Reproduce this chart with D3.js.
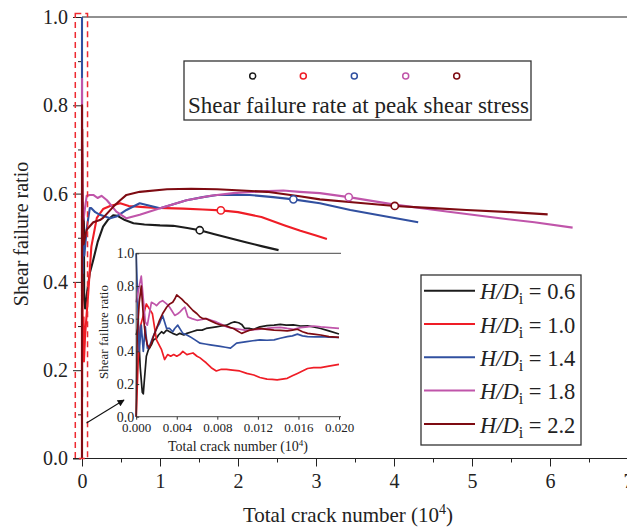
<!DOCTYPE html>
<html>
<head>
<meta charset="utf-8">
<script src="https://cdn.jsdelivr.net/npm/d3@7"></script>
<style>
  body { margin: 0; background: #fff; }
  svg { display: block; }
  text { font-family: "Liberation Serif", "Times New Roman", serif; fill: #222; }
</style>
</head>
<body>
<svg id="chart" width="627" height="529"></svg>
<script>
// ---- data: crack number in units of 10^4, shear failure ratio ----
const seriesLabels = ["0.6", "1.0", "1.4", "1.8", "2.2"];
const seriesColors = ["#1c1c1c", "#ef1d26", "#3150a0", "#c055aa", "#7e0b12"];

// first 0.02 x 10^4 cracks (shown enlarged in the inset)
const early06 = [[0,0.50],[0.0002,0.55],[0.0004,0.30],[0.0006,0.15],[0.0007,0.14],[0.0008,0.22],[0.0010,0.37],[0.0012,0.41],[0.0015,0.44],[0.0017,0.47],[0.0020,0.48],[0.0022,0.50],[0.0025,0.52],[0.0027,0.51],[0.0030,0.53],[0.0033,0.52],[0.0036,0.51],[0.0040,0.50],[0.0043,0.51],[0.0047,0.50],[0.0050,0.51],[0.0055,0.52],[0.0060,0.53],[0.0065,0.53],[0.0069,0.54],[0.0074,0.545],[0.0079,0.55],[0.0084,0.555],[0.0089,0.56],[0.0094,0.575],[0.0097,0.58],[0.0101,0.575],[0.0104,0.565],[0.0107,0.54],[0.0112,0.54],[0.0116,0.535],[0.0122,0.55],[0.0129,0.557],[0.0136,0.56],[0.0142,0.565],[0.0148,0.56],[0.0155,0.562],[0.0162,0.555],[0.0169,0.556],[0.0175,0.55],[0.0182,0.54],[0.0190,0.525],[0.0200,0.506]];
const early10 = [[0,0.0],[0.0002,0.35],[0.0004,0.55],[0.0007,0.62],[0.0010,0.69],[0.0013,0.66],[0.0016,0.63],[0.0018,0.55],[0.0020,0.47],[0.0025,0.41],[0.0028,0.35],[0.0031,0.38],[0.0034,0.37],[0.0037,0.38],[0.0040,0.37],[0.0043,0.38],[0.0046,0.40],[0.0050,0.38],[0.0053,0.385],[0.0056,0.39],[0.0060,0.37],[0.0063,0.36],[0.0066,0.345],[0.0069,0.33],[0.0074,0.30],[0.0079,0.28],[0.0084,0.29],[0.0089,0.29],[0.0095,0.285],[0.0102,0.28],[0.0109,0.265],[0.0116,0.255],[0.0122,0.24],[0.0129,0.23],[0.0134,0.228],[0.0139,0.225],[0.0144,0.23],[0.0149,0.235],[0.0154,0.25],[0.0159,0.265],[0.0164,0.28],[0.0169,0.295],[0.0175,0.3],[0.0182,0.3],[0.0190,0.31],[0.0200,0.32]];
const early14 = [[0,1.0],[0.0003,0.40],[0.0005,0.56],[0.0007,0.40],[0.0009,0.55],[0.0011,0.42],[0.0013,0.43],[0.0016,0.48],[0.0018,0.51],[0.0021,0.55],[0.0023,0.57],[0.0026,0.62],[0.0028,0.58],[0.0030,0.54],[0.0033,0.54],[0.0036,0.52],[0.0038,0.54],[0.0041,0.56],[0.0044,0.53],[0.0046,0.51],[0.0050,0.50],[0.0053,0.49],[0.0058,0.47],[0.0063,0.45],[0.0068,0.445],[0.0073,0.44],[0.0078,0.435],[0.0083,0.43],[0.0088,0.425],[0.0093,0.42],[0.0096,0.435],[0.0099,0.45],[0.0104,0.455],[0.0109,0.46],[0.0115,0.465],[0.0122,0.47],[0.0129,0.468],[0.0136,0.47],[0.0142,0.48],[0.0149,0.49],[0.0154,0.495],[0.0159,0.505],[0.0164,0.495],[0.0169,0.49],[0.0176,0.488],[0.0182,0.49],[0.0190,0.487],[0.0200,0.485]];
const early18 = [[0,0.70],[0.0003,0.80],[0.0005,0.86],[0.0007,0.72],[0.0009,0.58],[0.0011,0.56],[0.0013,0.63],[0.0015,0.70],[0.0018,0.69],[0.0020,0.68],[0.0023,0.70],[0.0026,0.71],[0.0030,0.69],[0.0033,0.67],[0.0035,0.65],[0.0038,0.62],[0.0041,0.63],[0.0043,0.64],[0.0046,0.66],[0.0048,0.67],[0.0051,0.61],[0.0055,0.60],[0.0060,0.59],[0.0065,0.595],[0.0069,0.60],[0.0074,0.59],[0.0079,0.58],[0.0084,0.565],[0.0089,0.55],[0.0096,0.54],[0.0102,0.535],[0.0107,0.53],[0.0112,0.53],[0.0120,0.535],[0.0129,0.54],[0.0136,0.545],[0.0142,0.547],[0.0149,0.54],[0.0155,0.535],[0.0162,0.545],[0.0169,0.55],[0.0175,0.555],[0.0182,0.55],[0.0188,0.547],[0.0200,0.54]];
const early22 = [[0,0.0],[0.0001,0.50],[0.0003,0.70],[0.0005,0.80],[0.0007,0.62],[0.0009,0.50],[0.0011,0.44],[0.0013,0.42],[0.0015,0.45],[0.0017,0.49],[0.0020,0.54],[0.0023,0.59],[0.0026,0.63],[0.0030,0.67],[0.0033,0.69],[0.0036,0.70],[0.0038,0.72],[0.0040,0.745],[0.0042,0.735],[0.0045,0.72],[0.0048,0.70],[0.0050,0.69],[0.0053,0.67],[0.0056,0.65],[0.0060,0.63],[0.0063,0.61],[0.0066,0.60],[0.0069,0.60],[0.0074,0.585],[0.0079,0.57],[0.0084,0.56],[0.0089,0.555],[0.0093,0.545],[0.0096,0.54],[0.0100,0.525],[0.0104,0.51],[0.0108,0.52],[0.0112,0.53],[0.0117,0.535],[0.0122,0.54],[0.0129,0.535],[0.0136,0.53],[0.0142,0.528],[0.0149,0.525],[0.0154,0.53],[0.0159,0.535],[0.0164,0.52],[0.0169,0.51],[0.0175,0.505],[0.0182,0.50],[0.0190,0.49],[0.0200,0.485]];

// remainder of each test
const late06 = [[0.024,0.56],[0.028,0.36],[0.04,0.34],[0.06,0.37],[0.10,0.42],[0.145,0.45],[0.20,0.49],[0.27,0.525],[0.33,0.54],[0.40,0.551],[0.45,0.55],[0.55,0.54],[0.66,0.533],[0.80,0.530],[1.00,0.528],[1.17,0.527],[1.35,0.522],[1.51,0.517],[1.70,0.508],[1.90,0.499],[2.10,0.490],[2.30,0.481],[2.52,0.472]];
const late10 = [[0.025,0.22],[0.04,0.28],[0.08,0.375],[0.12,0.48],[0.19,0.545],[0.27,0.565],[0.36,0.572],[0.49,0.578],[0.60,0.572],[0.75,0.570],[0.90,0.568],[1.08,0.567],[1.30,0.566],[1.55,0.564],[1.78,0.562],[2.00,0.558],[2.30,0.547],[2.60,0.528],[2.80,0.516],[3.00,0.505],[3.14,0.497]];
const late14 = [[0.03,0.46],[0.06,0.52],[0.10,0.567],[0.12,0.567],[0.17,0.558],[0.23,0.552],[0.36,0.544],[0.44,0.548],[0.57,0.563],[0.74,0.578],[0.83,0.574],[1.00,0.567],[1.15,0.575],[1.34,0.585],[1.55,0.592],[1.73,0.597],[2.15,0.597],[2.45,0.592],[2.71,0.587],[3.05,0.578],[3.44,0.563],[3.90,0.548],[4.31,0.535]];
const late18 = [[0.03,0.556],[0.06,0.595],[0.10,0.597],[0.145,0.597],[0.20,0.590],[0.25,0.595],[0.32,0.585],[0.44,0.559],[0.57,0.544],[0.74,0.552],[1.00,0.567],[1.34,0.585],[1.65,0.595],[1.94,0.601],[2.30,0.605],[2.58,0.607],[2.79,0.604],[3.05,0.601],[3.42,0.592],[4.01,0.575],[4.70,0.559],[5.36,0.544],[5.80,0.535],[6.29,0.523]];
const late22 = [[0.04,0.502],[0.06,0.518],[0.145,0.535],[0.23,0.540],[0.27,0.545],[0.40,0.570],[0.49,0.585],[0.57,0.597],[0.74,0.604],[1.09,0.610],[1.40,0.611],[1.73,0.610],[2.05,0.607],[2.37,0.604],[2.79,0.594],[3.05,0.587],[3.50,0.580],[4.01,0.572],[4.50,0.567],[4.93,0.563],[5.50,0.558],[5.97,0.553]];

// state at peak shear stress
const peakCrack = [1.51, 1.78, 2.71, 3.42, 4.01];
const peakRatio = [0.517, 0.562, 0.587, 0.592, 0.572];

const xTicks = [0, 1, 2, 3, 4, 5, 6, 7];
const yTicks = [0.0, 0.2, 0.4, 0.6, 0.8, 1.0];
const insetXTicks = [0.000, 0.004, 0.008, 0.012, 0.016, 0.020];
const insetYTicks = [0.0, 0.2, 0.4, 0.6, 0.8, 1.0];

const earlyData = [early06, early10, early14, early18, early22];
const lateData = [late06, late10, late14, late18, late22];

// ---- drawing ----
const svg = d3.select("#chart");
const x = d3.scaleLinear().domain([0, 7]).range([82, 628]);
const y = d3.scaleLinear().domain([0, 1]).range([458.5, 17]);

// frame top line
svg.append("line").attr("x1", x(0)).attr("x2", 627).attr("y1", y(1)).attr("y2", y(1))
  .attr("stroke", "#222").attr("stroke-width", 1);
// y spine
svg.append("line").attr("x1", x(0)).attr("x2", x(0)).attr("y1", y(0)).attr("y2", y(1))
  .attr("stroke", "#222").attr("stroke-width", 1);

// x axis
const gx = svg.append("g").attr("transform", `translate(0,${y(0)})`)
  .call(d3.axisBottom(x).tickValues(xTicks).tickSize(8).tickPadding(7).tickFormat(d3.format("d")));
gx.select(".domain").remove();
svg.append("line").attr("x1", 73).attr("x2", 627).attr("y1", y(0)).attr("y2", y(0))
  .attr("stroke", "#222").attr("stroke-width", 1);
svg.append("g").attr("transform", `translate(0,${y(0)})`)
  .call(d3.axisBottom(x).tickValues(d3.range(0.5, 7, 1)).tickSize(4).tickFormat(""))
  .select(".domain").remove();

// y axis
const gy = svg.append("g").attr("transform", `translate(81,0)`)
  .call(d3.axisLeft(y).tickValues(yTicks).tickSize(8).tickPadding(5).tickFormat(d3.format(".1f")));
gy.select(".domain").remove();
svg.append("g").attr("transform", `translate(81,0)`)
  .call(d3.axisLeft(y).tickValues([0.1, 0.3, 0.5, 0.7, 0.9]).tickSize(3).tickFormat(""))
  .select(".domain").remove();

svg.selectAll(".tick line").attr("stroke", "#222");
svg.selectAll(".tick text").style("font-size", "20px").style("font-family", "Liberation Serif").attr("fill", "#222");

// axis titles
const xt = svg.append("text").attr("x", 348).attr("y", 521.5).attr("text-anchor", "middle")
  .style("font-size", "21px");
xt.append("tspan").text("Total crack number (10");
xt.append("tspan").text("4").attr("dy", -8).style("font-size", "14px");
xt.append("tspan").text(")").attr("dy", 8);

svg.append("text").attr("transform", "translate(28,234) rotate(-90)")
  .attr("text-anchor", "middle").style("font-size", "20px").text("Shear failure ratio");

// curves
const line = d3.line().x(d => x(d[0])).y(d => y(d[1]));
lateData.forEach((late, i) => {
  svg.append("path").datum(earlyData[i].concat(late))
    .attr("d", line).attr("fill", "none")
    .attr("stroke", seriesColors[i]).attr("stroke-width", 2.1).attr("stroke-linejoin", "round");
});

// peak markers
svg.selectAll(".peak").data(peakCrack).join("circle")
  .attr("cx", d => x(d)).attr("cy", (d, i) => y(peakRatio[i])).attr("r", 3.6)
  .attr("fill", "#fff").attr("stroke", (d, i) => seriesColors[i]).attr("stroke-width", 1.6);

// dashed zoom window
svg.append("rect")
  .attr("x", x(-0.086)).attr("y", y(1.008))
  .attr("width", x(0.071) - x(-0.086)).attr("height", y(0) - y(1.008))
  .attr("fill", "none").attr("stroke", "#ee2a30").attr("stroke-width", 1.5)
  .attr("stroke-dasharray", "6,4");

// arrow towards the inset
const defs = svg.append("defs");
defs.append("marker").attr("id", "arrowhead").attr("viewBox", "0 0 10 10")
  .attr("refX", 9).attr("refY", 5).attr("markerWidth", 9).attr("markerHeight", 7)
  .attr("markerUnits", "userSpaceOnUse").attr("orient", "auto")
  .append("path").attr("d", "M0,0 L10,5 L0,10 Z").attr("fill", "#111");
svg.append("line").attr("x1", 86.5).attr("y1", 423).attr("x2", 124).attr("y2", 400)
  .attr("stroke", "#111").attr("stroke-width", 1.1).attr("marker-end", "url(#arrowhead)");

// ---- inset ----
const xi = d3.scaleLinear().domain([0, 0.02]).range([136.2, 339]);
const yi = d3.scaleLinear().domain([0, 1]).range([416.7, 253.3]);
const inset = svg.append("g");
inset.append("rect").attr("x", xi(0)).attr("y", yi(1)).attr("width", xi(0.02) - xi(0) + 2)
  .attr("height", yi(0) - yi(1)).attr("fill", "#fff");

const lineI = d3.line().x(d => xi(d[0])).y(d => yi(d[1]));
earlyData.forEach((early, i) => {
  inset.append("path").datum(early).attr("d", lineI).attr("fill", "none")
    .attr("stroke", seriesColors[i]).attr("stroke-width", 1.7).attr("stroke-linejoin", "round");
});

inset.append("line").attr("x1", xi(0)).attr("x2", xi(0.02) + 2).attr("y1", yi(1)).attr("y2", yi(1))
  .attr("stroke", "#333").attr("stroke-width", 0.9);
inset.append("line").attr("x1", xi(0)).attr("x2", xi(0.02) + 2).attr("y1", yi(0)).attr("y2", yi(0))
  .attr("stroke", "#333").attr("stroke-width", 0.9);
inset.append("line").attr("x1", xi(0)).attr("x2", xi(0)).attr("y1", yi(0)).attr("y2", yi(1))
  .attr("stroke", "#333").attr("stroke-width", 0.9);

const gxi = inset.append("g").attr("transform", `translate(0,${yi(0)})`)
  .call(d3.axisBottom(xi).tickValues(insetXTicks).tickSize(3).tickPadding(3).tickFormat(d3.format(".3f")));
gxi.select(".domain").remove();
const gyi = inset.append("g").attr("transform", `translate(${xi(0)},0)`)
  .call(d3.axisLeft(yi).tickValues(insetYTicks).tickSize(-3).tickPadding(2).tickFormat(d3.format(".1f")));
gyi.select(".domain").remove();
inset.selectAll(".tick line").attr("stroke", "#333");
gxi.selectAll(".tick text").style("font-size", "13px").style("font-family", "Liberation Serif").attr("fill", "#333");
gyi.selectAll(".tick text").style("font-size", "14px").style("font-family", "Liberation Serif").attr("fill", "#333");

const xti = inset.append("text").attr("x", 238).attr("y", 451).attr("text-anchor", "middle")
  .style("font-size", "14px").attr("fill", "#333");
xti.append("tspan").text("Total crack number (10");
xti.append("tspan").text("4").attr("dy", -5).style("font-size", "9px");
xti.append("tspan").text(")").attr("dy", 5);
inset.append("text").attr("transform", "translate(108,332) rotate(-90)")
  .attr("text-anchor", "middle").style("font-size", "13px").attr("fill", "#333").text("Shear failure ratio");

// ---- peak marker legend ----
svg.append("rect").attr("x", 184).attr("y", 61).attr("width", 347).attr("height", 59)
  .attr("fill", "#fff").attr("stroke", "#333").attr("stroke-width", 1.3);
const markerKeyX = [252.7, 303.3, 354.3, 405.7, 456.7];
svg.selectAll(".keydot").data(seriesColors).join("circle")
  .attr("cx", (d, i) => markerKeyX[i]).attr("cy", 76).attr("r", 3)
  .attr("fill", "#fff").attr("stroke", d => d).attr("stroke-width", 1.5);
svg.append("text").attr("x", 188).attr("y", 113).style("font-size", "23px")
  .text("Shear failure rate at peak shear stress");

// ---- series legend ----
svg.append("rect").attr("x", 421).attr("y", 275).attr("width", 160).attr("height", 170)
  .attr("fill", "#fff").attr("stroke", "#333").attr("stroke-width", 1.3);
seriesLabels.forEach((lab, i) => {
  const ly = 290.7 + i * 33.3;
  svg.append("line").attr("x1", 424).attr("x2", 475).attr("y1", ly).attr("y2", ly)
    .attr("stroke", seriesColors[i]).attr("stroke-width", 2);
  const t = svg.append("text").attr("x", 480).attr("y", ly + 8.6).style("font-size", "22.5px");
  t.append("tspan").text("H").style("font-style", "italic");
  t.append("tspan").text("/").style("font-style", "italic");
  t.append("tspan").text("D").style("font-style", "italic");
  t.append("tspan").text("i").attr("dy", 5).style("font-size", "16px");
  t.append("tspan").text(" = " + lab).attr("dy", -5);
});
</script>
</body>
</html>
